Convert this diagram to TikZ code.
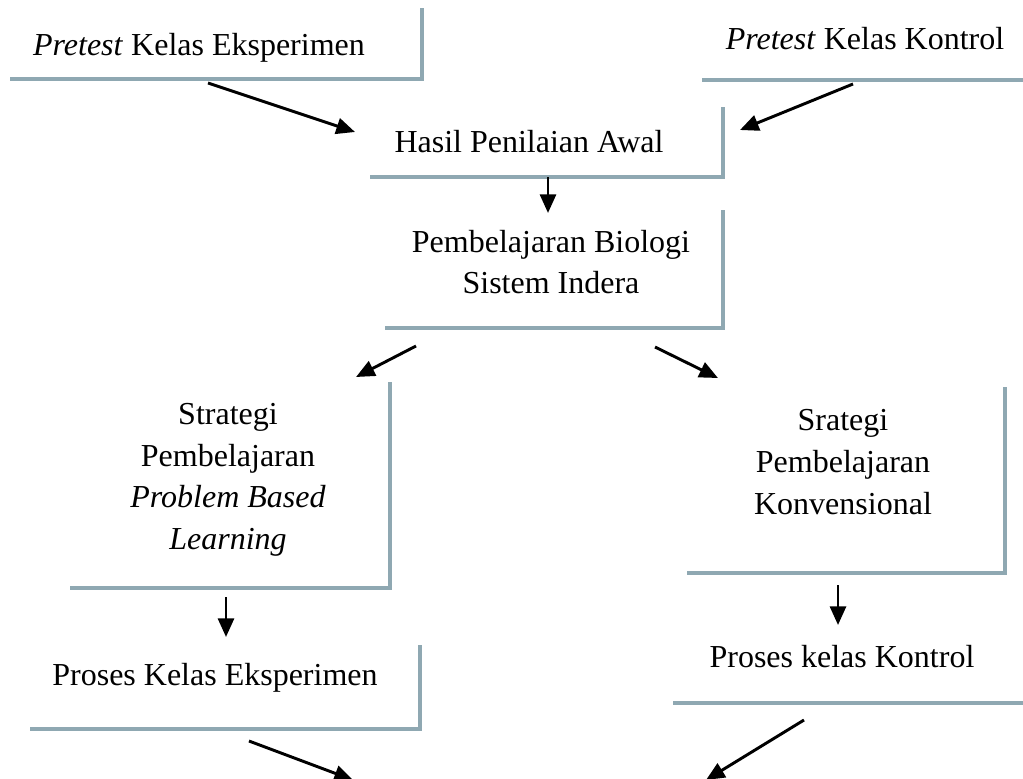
\documentclass[tikz,border=0pt]{standalone}
\usepackage{fontspec}
\setmainfont{Liberation Serif}
\usetikzlibrary{arrows.meta}
\definecolor{rimcol}{RGB}{143,168,178}

\begin{document}
\begin{tikzpicture}[x=0.375pt,y=-0.375pt,
		txt/.style={align=center,inner sep=0pt,font=\fontsize{12}{15.6}\selectfont},
		rimline/.style={draw=rimcol,line width=1.5pt,to path={|- (\tikztotarget)}},
		rim/.style 2 args={append after command={([shift={#1}]\tikzlastnode.center) edge[rimline] ([shift={#2}]\tikzlastnode.center)}},
		arr/.style={-{Triangle[length=7pt,width=6pt]},line width=1.1pt}]
	\useasboundingbox (0,0) rectangle (1023,778);
	\clip (0,0) rectangle (1023,778);
	\node[txt,rim={(223,-40)}{(-189,31)}] (pre1) at (199,48) {\textit{Pretest} Kelas Eksperimen};
	\node[txt,rim={(175,-59)}{(-163,41)}] (pre2) at (865,39) {\textit{Pretest} Kelas Kontrol};
	\node[txt,rim={(194,-35)}{(-159,35)}] (hasil) at (529,142) {Hasil Penilaian Awal};
	\node[txt,rim={(172,-52)}{(-166,66)}] (bio) at (551,262) {Pembelajaran Biologi\\Sistem Indera};
	\node[txt,rim={(162,-98)}{(-158,108)}] (pbl) at (228,480) {Strategi\\Pembelajaran\\\textit{Problem Based}\\\textit{Learning}};
	\node[txt,rim={(162,-75)}{(-156,111)}] (konv) at (843,462) {Srategi\\Pembelajaran\\Konvensional};
	\node[txt,rim={(205,-33)}{(-185,51)}] (proseks) at (215,678) {Proses Kelas Eksperimen};
	\node[txt,rim={(198,-67)}{(-169,46)}] (proskon) at (842,657) {Proses kelas Kontrol};
	\coordinate (out1) at (353,780);
	\coordinate (out2) at (706,780);

	\draw[arr] ([shift={(9,35)}]pre1.center) -- ([shift={(-174,-10)}]hasil.center);
	\draw[arr] ([shift={(-12,45)}]pre2.center) -- ([shift={(211,-12)}]hasil.center);
	\draw[arr] ([shift={(19,35)}]hasil.center) -- ([shift={(-3,-49)}]bio.center);
	\draw[arr] ([shift={(-135,84)}]bio.center) -- ([shift={(128,-103)}]pbl.center);
	\draw[arr] ([shift={(104,85)}]bio.center) -- ([shift={(-125,-84)}]konv.center);
	\draw[arr] ([shift={(-2,117)}]pbl.center) -- ([shift={(11,-41)}]proseks.center);
	\draw[arr] ([shift={(-5,123)}]konv.center) -- ([shift={(-4,-32)}]proskon.center);
	\draw[arr] ([shift={(34,63)}]proseks.center) -- (out1);
	\draw[arr] ([shift={(-38,63)}]proskon.center) -- (out2);
\end{tikzpicture}
\end{document}
